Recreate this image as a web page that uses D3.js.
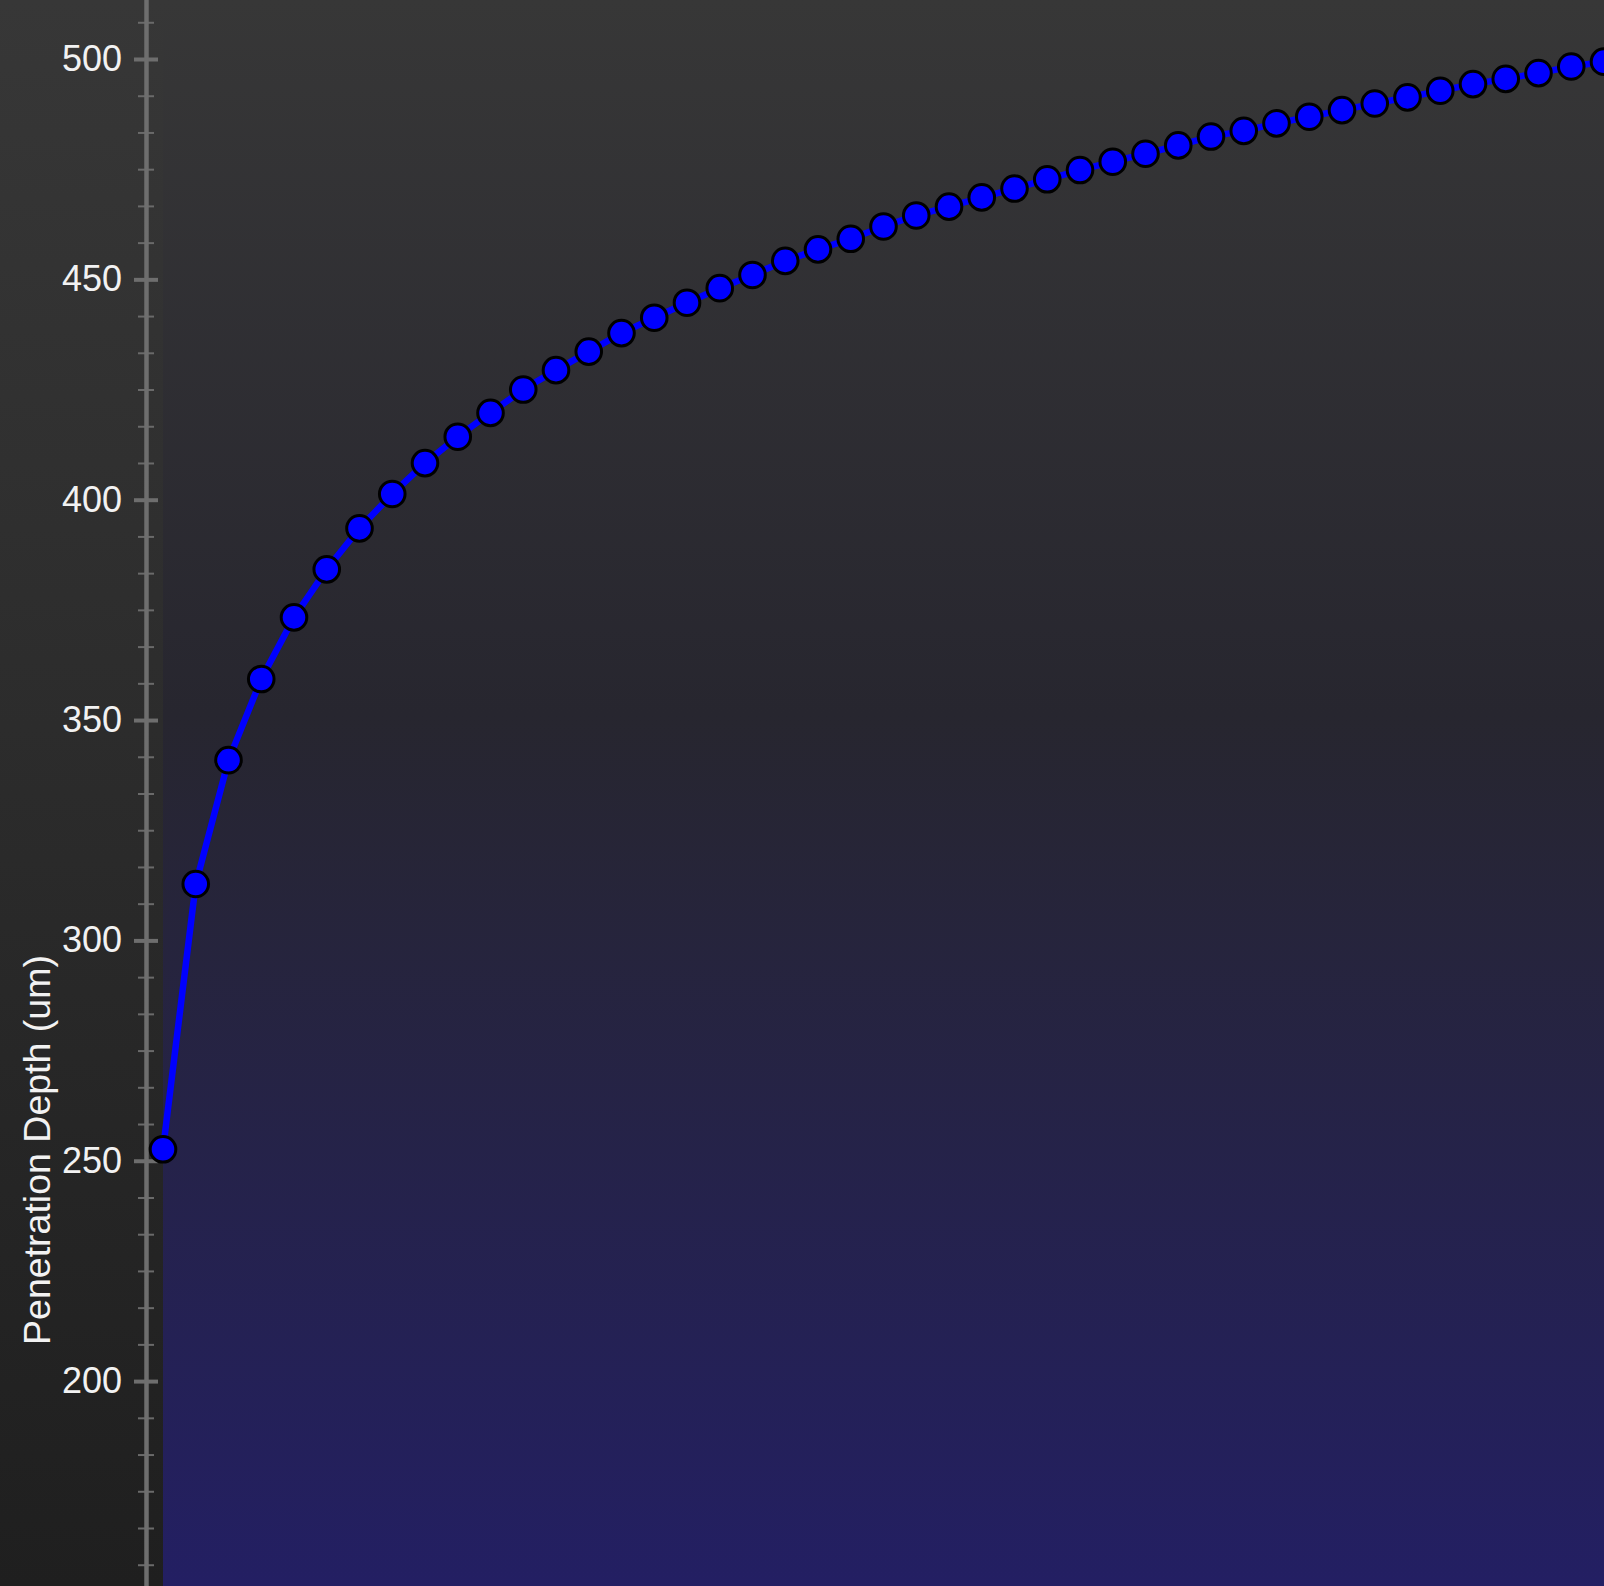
<!DOCTYPE html>
<html>
  <head>
    <meta charset="UTF-8">
    <style>
      html, body {
        margin: 0;
        padding: 0;
        background: #2a2a2a;
        overflow: hidden;
      }

      svg text {
        font-family: 'Liberation Sans', Arial, Helvetica, sans-serif;
        fill: #f2f2f2;
      }

      .y-axis .domain {
        stroke: #6e6e6e;
        stroke-width: 4.5;
      }

      .y-axis .tick line {
        stroke: #6e6e6e;
        stroke-width: 4;
      }

      .y-axis text {
        font-size: 36px;
      }

      .y-minor .domain {
        display: none;
      }

      .y-minor .tick line {
        stroke: #6a6a6a;
        stroke-width: 2;
      }
    </style>
    <script src="https://d3js.org/d3.v7.min.js"></script>
  </head>

  <body>
    <svg id="chart"></svg>

    <script type="text/javascript">
      // measurement steps along the x direction (no x axis shown in the picture)
      let steps = [0, 1, 2, 3, 4, 5, 6, 7, 8, 9, 10, 11, 12, 13, 14, 15, 16, 17, 18, 19, 20, 21,
        22, 23, 24, 25, 26, 27, 28, 29, 30, 31, 32, 33, 34, 35, 36, 37, 38, 39, 40, 41, 42, 43, 44]

      // penetration depth, um
      let depths = [252.6, 312.8, 340.9, 359.3, 373.3, 384.2, 393.5, 401.3, 408.3, 414.3,
        419.7, 425.0, 429.4, 433.6, 437.8, 441.3, 444.7, 448.0, 451.0, 454.2,
        456.8, 459.2, 462.0, 464.5, 466.5, 468.6, 470.6, 472.7, 474.8, 476.7,
        478.5, 480.4, 482.4, 483.7, 485.4, 486.9, 488.4, 489.9, 491.3, 492.8,
        494.3, 495.5, 496.8, 498.3, 499.4]

      let yTicks = [150, 200, 250, 300, 350, 400, 450, 500]
      let yLabel = 'Penetration Depth (um)'

      function getChartConfig() {
        let width = 1604
        let height = 1586
        let margin = {
          top: 59,
          left: 163,
          axisX: 146
        }
        let container = d3.select('#chart')
          .attr('width', width)
          .attr('height', height)

        return { width, height, margin, container }
      }

      function getChartScales(config) {
        let xScale = d3.scaleLinear()
          .domain([steps[0], steps[steps.length - 1]])
          .range([config.margin.left, config.width])

        // 50 um spans about 220 px
        let yScale = d3.scaleLinear()
          .domain([150, 500])
          .range([config.margin.top + 350 * 4.407, config.margin.top])

        return { xScale, yScale }
      }

      function drawBackground(config) {
        let defs = config.container.append('defs')

        let outer = defs.append('linearGradient')
          .attr('id', 'outer-bg')
          .attr('x1', 0).attr('y1', 0).attr('x2', 0).attr('y2', 1)
        outer.append('stop').attr('offset', '0%').attr('stop-color', '#373737')
        outer.append('stop').attr('offset', '100%').attr('stop-color', '#1f1f1f')

        let plot = defs.append('linearGradient')
          .attr('id', 'plot-bg')
          .attr('x1', 0).attr('y1', 0).attr('x2', 0).attr('y2', 1)
        plot.append('stop').attr('offset', '0%').attr('stop-color', '#373737')
        plot.append('stop').attr('offset', '45%').attr('stop-color', '#27262f')
        plot.append('stop').attr('offset', '100%').attr('stop-color', '#231f63')

        config.container.append('rect')
          .attr('width', config.width)
          .attr('height', config.height)
          .attr('fill', 'url(#outer-bg)')

        config.container.append('rect')
          .attr('x', config.margin.left)
          .attr('width', config.width - config.margin.left)
          .attr('height', config.height)
          .attr('fill', 'url(#plot-bg)')
      }

      function drawAxis(scales, config) {
        let minorTicks = []
        for (let i = 0; i < yTicks.length - 1; i++) {
          let step = (yTicks[i + 1] - yTicks[i]) / 6
          for (let k = 1; k < 6; k++) minorTicks.push(yTicks[i] + k * step)
        }
        minorTicks.push(500 + 50 / 6)
        minorTicks.push(500 + 100 / 6)

        let yExt = scales.yScale.copy().domain([140, 520])
          .range([scales.yScale(140), scales.yScale(520)])

        config.container.append('g')
          .attr('class', 'y-minor')
          .attr('transform', `translate(${config.margin.axisX + 8}, 0)`)
          .call(d3.axisLeft(yExt)
            .tickValues(minorTicks)
            .tickSize(16)
            .tickFormat(''))

        config.container.append('g')
          .attr('class', 'y-axis')
          .attr('transform', `translate(${config.margin.axisX + 12}, 0)`)
          .call(d3.axisLeft(scales.yScale)
            .tickValues(yTicks)
            .tickSize(24)
            .tickSizeOuter(0)
            .tickPadding(12))
          .select('.domain')
            .remove()

        // full-height axis line
        config.container.append('g')
          .attr('class', 'y-axis')
          .attr('transform', `translate(${config.margin.axisX}, 0)`)
          .call(d3.axisLeft(yExt).tickValues([]).tickSizeOuter(0))

        config.container.append('text')
          .attr('transform', `translate(50, 1150) rotate(-90)`)
          .attr('text-anchor', 'middle')
          .style('font-size', '37.5px')
          .text(yLabel)
      }

      function drawLine(scales, config) {
        let points = steps.map((s, i) => ({ step: s, depth: depths[i] }))

        let g = config.container.append('g').attr('class', 'series')

        g.append('path')
          .datum(points)
          .attr('d', d3.line()
            .x(d => scales.xScale(d.step))
            .y(d => scales.yScale(d.depth)))
          .attr('fill', 'none')
          .attr('stroke', '#0000ff')
          .attr('stroke-width', 6.5)
          .attr('stroke-linejoin', 'round')

        g.selectAll('circle')
          .data(points)
          .enter()
          .append('circle')
          .attr('cx', d => scales.xScale(d.step))
          .attr('cy', d => scales.yScale(d.depth))
          .attr('r', 12.8)
          .attr('fill', '#0000ff')
          .attr('stroke', '#000')
          .attr('stroke-width', 3)
      }

      let config = getChartConfig()
      let scales = getChartScales(config)
      drawBackground(config)
      drawAxis(scales, config)
      drawLine(scales, config)
    </script>
  </body>
</html>
